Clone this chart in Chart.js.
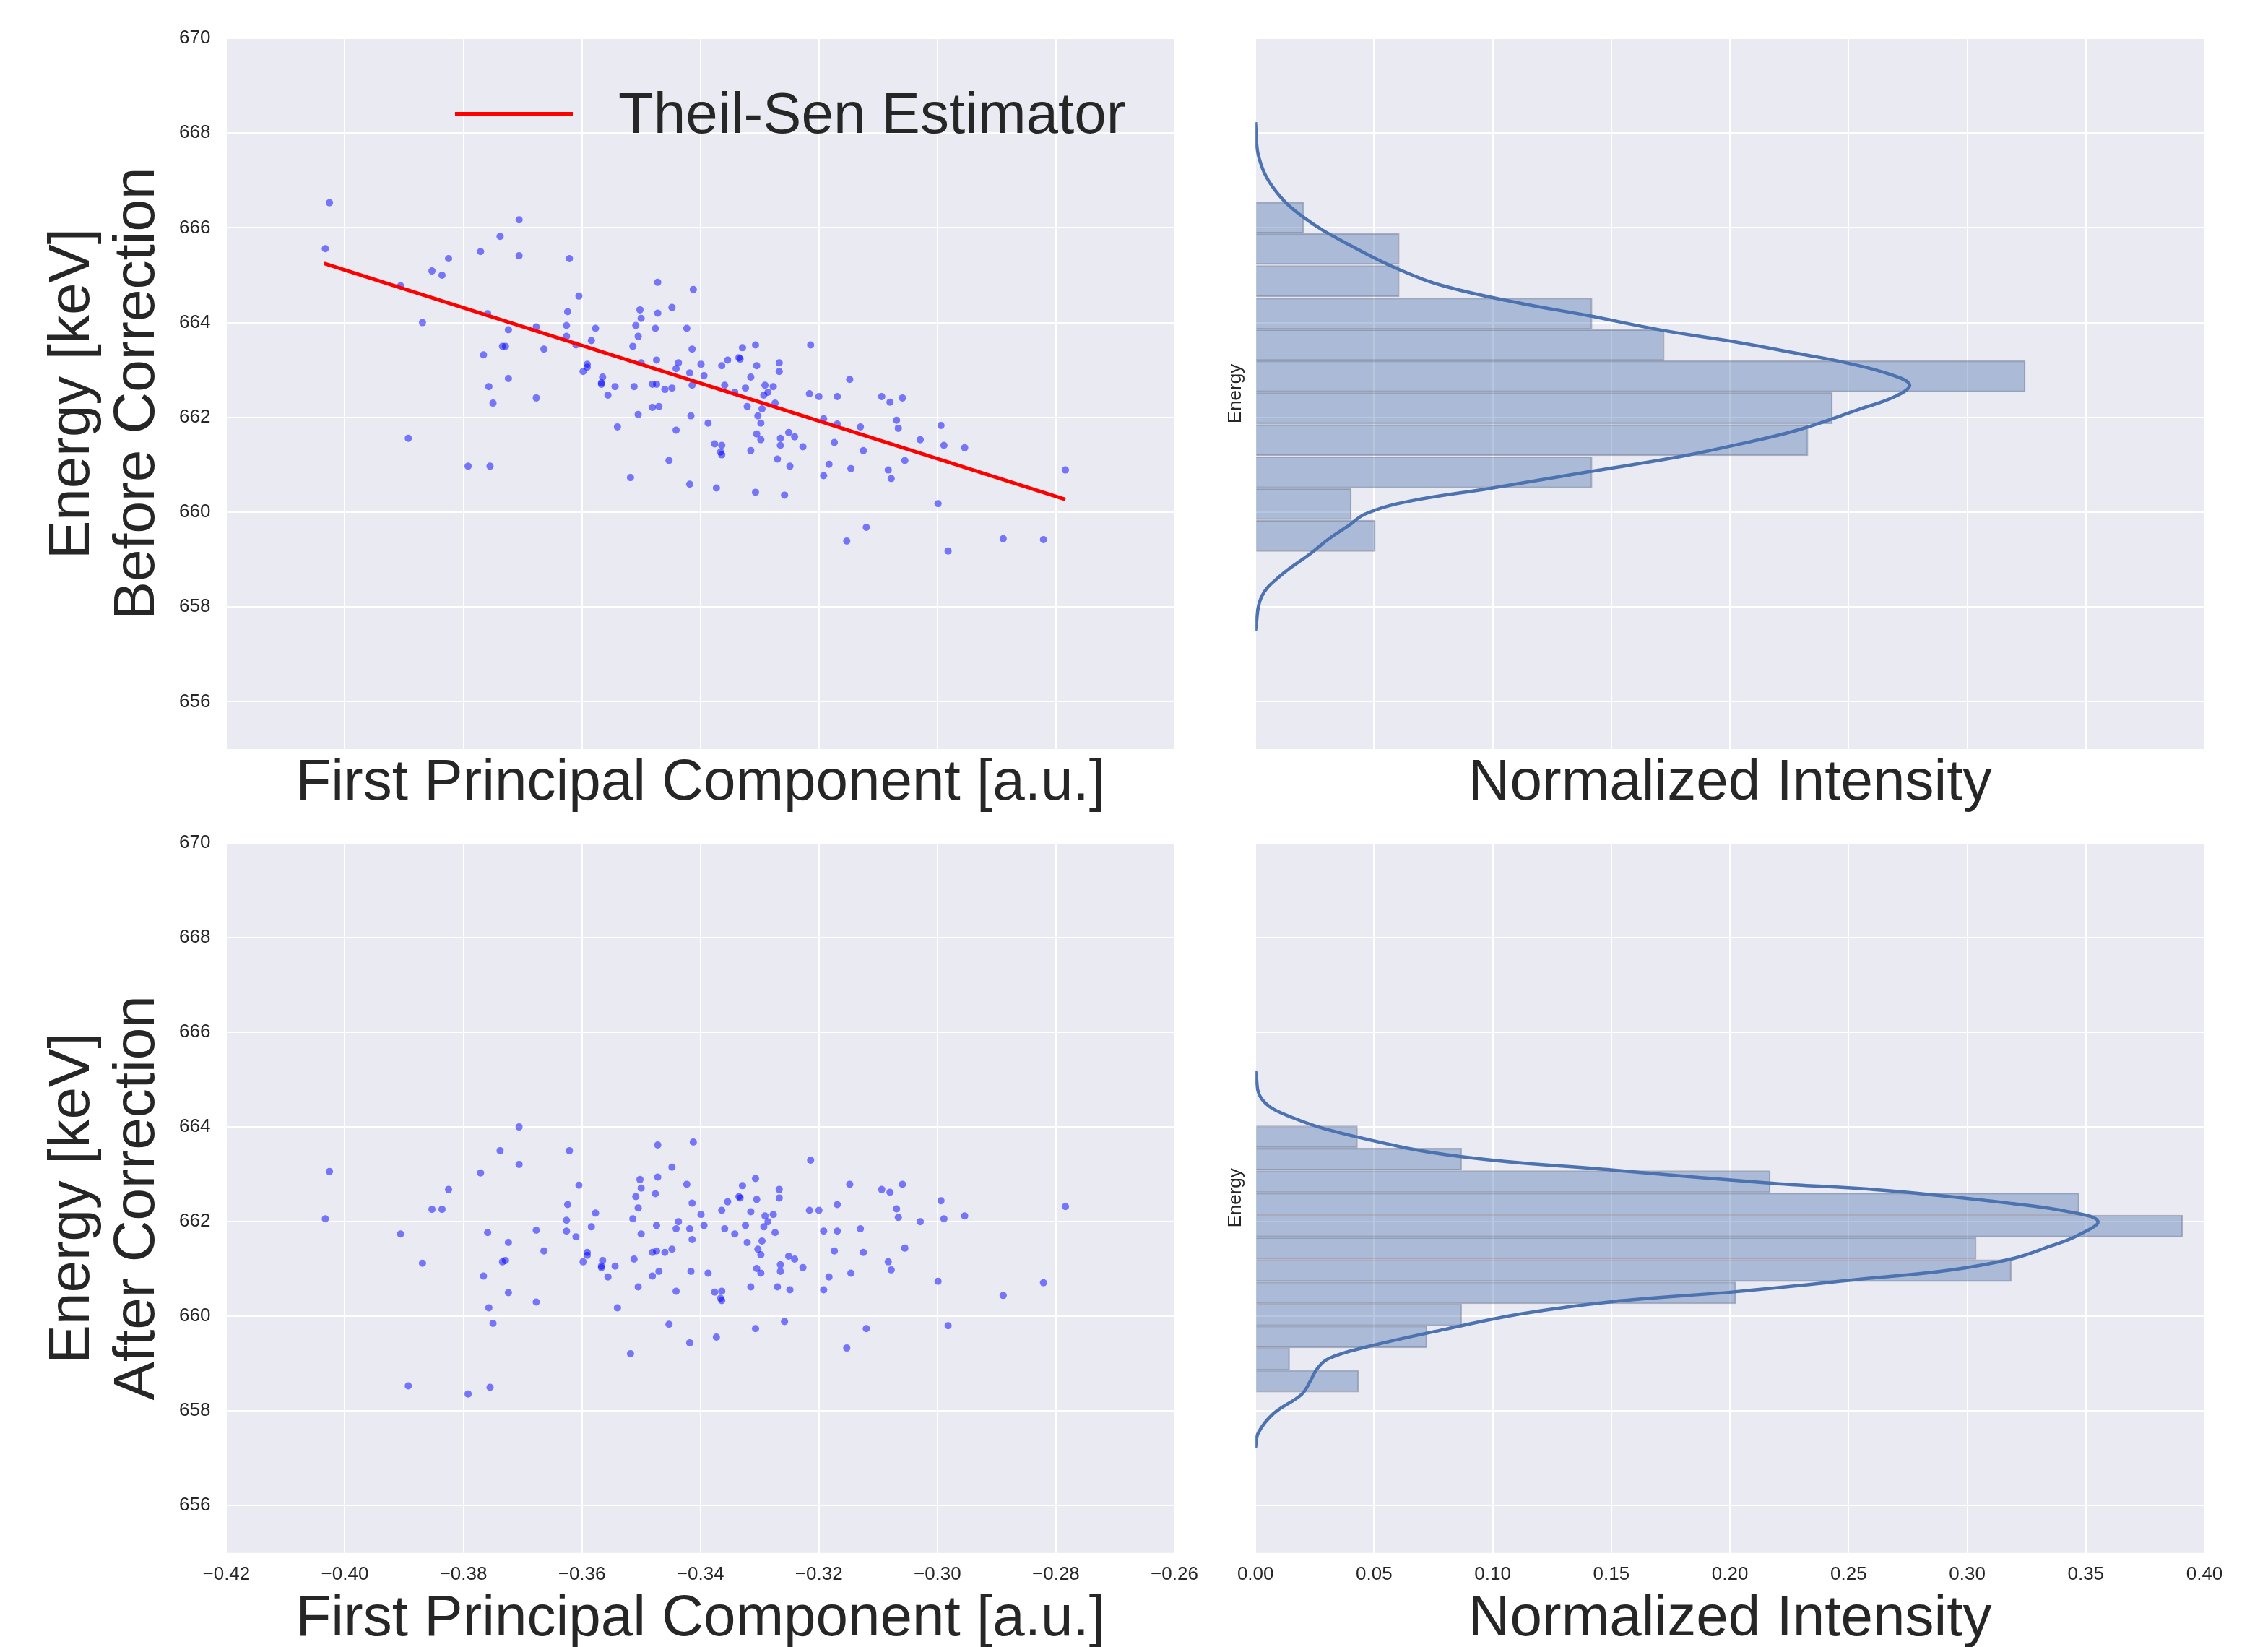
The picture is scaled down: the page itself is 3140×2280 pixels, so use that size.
<!DOCTYPE html>
<html>
<head>
<meta charset="utf-8">
<script src="https://cdn.jsdelivr.net/npm/chart.js@4.4.1/dist/chart.umd.min.js"></script>
<style>
html, body { margin: 0; padding: 0; background: #fff; }
body { width: 3140px; height: 2280px; position: relative; overflow: hidden; font-family: "Liberation Sans", Arial, sans-serif; }
canvas { position: absolute; }
#legendLine { position: absolute; left: 630px; top: 155px; width: 163px; height: 5px; background: #ff0000; }
#legendText { position: absolute; left: 856px; top: 117px; font-size: 80px; line-height: 80px; color: #262626; white-space: nowrap; }
</style>
</head>
<body>
<canvas id="scatterBefore" width="1680" height="1143" style="left:0px;top:0px"></canvas>
<canvas id="histBefore" width="1480" height="1143" style="left:1660px;top:0px"></canvas>
<canvas id="scatterAfter" width="1680" height="1176" style="left:0px;top:1114px"></canvas>
<canvas id="histAfter" width="1480" height="1176" style="left:1660px;top:1114px"></canvas>
<div id="legendLine"></div>
<div id="legendText">Theil-Sen Estimator</div>
<script>
Chart.defaults.font.family = '"Liberation Sans", Arial, sans-serif';
Chart.defaults.color = '#262626';

// first principal component of each event
const pcX = [
  -0.4026, -0.4033, -0.3706, -0.3738, -0.3771, -0.3706, -0.3825, -0.3621, -0.3853, -0.3836,
  -0.3906, -0.3472, -0.3412, -0.3605, -0.3448, -0.3502, -0.3624, -0.3472, -0.3759, -0.3500,
  -0.3869, -0.3626, -0.3509, -0.3677, -0.3476, -0.3423, -0.3724, -0.3577, -0.3626, -0.3505,
  -0.3584, -0.3734, -0.3729, -0.3514, -0.3610, -0.3664, -0.3414, -0.3766, -0.3474, -0.3500,
  -0.3437, -0.3591, -0.3591, -0.3441, -0.3598, -0.3418, -0.3724, -0.3565, -0.3567, -0.3567,
  -0.3757, -0.3544, -0.3512, -0.3481, -0.3474, -0.3460, -0.3448, -0.3414, -0.3556, -0.3677,
  -0.3750, -0.3481, -0.3470, -0.3505, -0.3416, -0.3540, -0.3441, -0.3893, -0.3792, -0.3755,
  -0.3453, -0.3518, -0.3418,
  -0.3307, -0.3214, -0.3329, -0.3335, -0.3333, -0.3354, -0.3399, -0.3364, -0.3305, -0.3267,
  -0.3267, -0.3394, -0.3315, -0.3148, -0.3359, -0.3291, -0.3277, -0.3324, -0.3342, -0.3286,
  -0.3293, -0.3216, -0.3200, -0.3169, -0.3094, -0.3080, -0.3059, -0.3274, -0.3321, -0.3296,
  -0.3303, -0.3192, -0.3069, -0.3387, -0.3298, -0.3169, -0.3130, -0.2994, -0.3066, -0.3251,
  -0.3305, -0.3241, -0.3265, -0.3298, -0.3029, -0.3376, -0.3364, -0.3265, -0.3174, -0.2989,
  -0.3227, -0.2954, -0.3315, -0.3125, -0.3366, -0.3364, -0.3270, -0.3055, -0.3249, -0.3183,
  -0.3146, -0.3083, -0.2784, -0.3192, -0.3078, -0.3373, -0.3307, -0.3258, -0.2999, -0.3120,
  -0.3153, -0.2889, -0.2821, -0.2982
];

// energy before correction [keV]
const energyBefore = [
  666.53, 665.56, 666.17, 665.82, 665.50, 665.41, 665.35, 665.35, 665.09, 665.00,
  664.78, 664.85, 664.70, 664.56, 664.32, 664.27, 664.23, 664.20, 664.19, 664.09,
  664.00, 663.94, 663.94, 663.91, 663.88, 663.88, 663.85, 663.88, 663.71, 663.71,
  663.62, 663.50, 663.50, 663.50, 663.53, 663.44, 663.44, 663.32, 663.21, 663.15,
  663.15, 663.12, 663.06, 663.03, 662.97, 662.94, 662.82, 662.85, 662.73, 662.70,
  662.65, 662.65, 662.65, 662.70, 662.70, 662.59, 662.62, 662.68, 662.47, 662.41,
  662.30, 662.21, 662.23, 662.06, 662.03, 661.80, 661.73, 661.56, 660.97, 660.97,
  661.09, 660.73, 660.59,
  663.53, 663.53, 663.47, 663.26, 663.23, 663.21, 663.12, 663.09, 663.09, 663.15,
  662.97, 662.88, 662.85, 662.80, 662.68, 662.68, 662.65, 662.62, 662.53, 662.53,
  662.47, 662.50, 662.44, 662.44, 662.44, 662.32, 662.41, 662.30, 662.23, 662.18,
  662.03, 661.97, 661.94, 661.88, 661.88, 661.86, 661.80, 661.83, 661.77, 661.68,
  661.65, 661.59, 661.56, 661.53, 661.53, 661.44, 661.41, 661.41, 661.47, 661.41,
  661.38, 661.36, 661.30, 661.30, 661.27, 661.21, 661.12, 661.09, 660.97, 661.01,
  660.92, 660.89, 660.89, 660.77, 660.71, 660.51, 660.42, 660.36, 660.18, 659.68,
  659.39, 659.44, 659.42, 659.18
];

// energy after correction [keV]
const energyAfter = [
  663.06, 662.06, 664.00, 663.50, 663.03, 663.21, 662.68, 663.50, 662.26, 662.26,
  661.74, 663.62, 663.68, 662.77, 663.15, 662.89, 662.36, 662.94, 661.77, 662.71,
  661.12, 662.03, 662.53, 661.82, 662.59, 662.79, 661.56, 662.18, 661.80, 662.29,
  661.89, 661.15, 661.18, 662.06, 661.68, 661.38, 662.39, 660.85, 661.92, 661.74,
  662.00, 661.35, 661.29, 661.85, 661.15, 661.85, 660.50, 661.18, 661.06, 661.03,
  660.18, 661.06, 661.21, 661.35, 661.38, 661.35, 661.42, 661.62, 660.83, 660.30,
  659.85, 660.85, 660.95, 660.62, 660.95, 660.18, 660.53, 658.53, 658.36, 658.50,
  659.83, 659.21, 659.44,
  662.91, 663.30, 662.76, 662.53, 662.50, 662.42, 662.15, 662.24, 662.47, 662.68,
  662.50, 661.92, 662.21, 662.79, 661.85, 662.12, 662.15, 661.92, 661.74, 662.00,
  661.89, 662.24, 662.24, 662.36, 662.68, 662.62, 662.79, 661.77, 661.56, 661.59,
  661.42, 661.80, 662.27, 660.91, 661.30, 661.80, 661.85, 662.44, 662.09, 661.27,
  661.01, 661.21, 661.09, 660.91, 662.00, 660.51, 660.53, 660.95, 661.38, 662.06,
  661.03, 662.12, 660.62, 661.35, 660.38, 660.33, 660.62, 661.44, 660.56, 660.83,
  660.91, 661.15, 662.32, 660.56, 660.98, 659.56, 659.74, 659.89, 660.74, 659.74,
  659.33, 660.44, 660.71, 659.80
];

// Theil-Sen fit end points
const fitX = [-0.4035, -0.2784];
const fitE = [665.25, 660.27];

// histograms (bin centres, normalized intensity)
const binsBefore = [659.50, 660.17, 660.84, 661.52, 662.195, 662.865, 663.525, 664.19, 664.875, 665.555, 666.215];
const densityBefore = [0.0505, 0.0404, 0.1419, 0.2329, 0.2432, 0.3245, 0.1723, 0.1419, 0.0606, 0.0606, 0.0204];
const binsAfter = [658.63, 659.095, 659.565, 660.03, 660.495, 660.965, 661.435, 661.905, 662.375, 662.845, 663.32, 663.79];
const densityAfter = [0.0435, 0.0144, 0.0723, 0.0869, 0.2025, 0.3186, 0.3038, 0.3908, 0.3472, 0.2170, 0.0869, 0.0430];

// kde curves
const kdeBeforeE = [668.23, 667.53, 666.83, 666.21, 665.59, 665.11, 664.76, 664.41, 664.15, 663.84, 663.59, 663.35, 663.15, 662.91, 662.69, 662.45, 662.17, 661.73, 661.42, 661.15, 660.85, 660.50, 660.23, 659.97, 659.70, 659.44, 659.13, 658.65, 658.21, 657.50];
const kdeBeforeD = [0, 0.0012, 0.0077, 0.0206, 0.0414, 0.0610, 0.0804, 0.1116, 0.1401, 0.1713, 0.2025, 0.2284, 0.2492, 0.2674, 0.2757, 0.2700, 0.2544, 0.2284, 0.2025, 0.1765, 0.1401, 0.0986, 0.0648, 0.0466, 0.0388, 0.0310, 0.0233, 0.0103, 0.0025, 0];
const kdeAfterE = [665.19, 664.60, 664.20, 663.79, 663.38, 663.09, 662.82, 662.65, 662.38, 662.21, 662.01, 661.71, 661.48, 661.22, 660.98, 660.78, 660.52, 660.31, 660.05, 659.73, 659.35, 659.11, 658.88, 658.65, 658.35, 657.95, 657.54, 657.22];
const kdeAfterD = [0, 0.0025, 0.0155, 0.0427, 0.0856, 0.1505, 0.2154, 0.2674, 0.3193, 0.3427, 0.3551, 0.3466, 0.3349, 0.3193, 0.2934, 0.2544, 0.2025, 0.1505, 0.1116, 0.0804, 0.0466, 0.0310, 0.0258, 0.0233, 0.0194, 0.0077, 0.0012, 0];

// tick labels
const energyTicks = [656, 658, 660, 662, 664, 666, 668, 670];
const pcTicks = [-0.42, -0.40, -0.38, -0.36, -0.34, -0.32, -0.30, -0.28, -0.26];
const intensityTicks = [0, 0.05, 0.10, 0.15, 0.20, 0.25, 0.30, 0.35, 0.40];

const TEXT = '#262626';

// grey plotting area like seaborn darkgrid
const plotBackground = {
  id: 'plotBackground',
  beforeDraw(chart) {
    const {ctx, chartArea: a} = chart;
    ctx.save();
    ctx.fillStyle = '#eaeaf2';
    ctx.fillRect(a.left, a.top, a.right - a.left, a.bottom - a.top);
    ctx.restore();
  }
};

const gridStyle = {color: '#ffffff', lineWidth: 2, drawTicks: false, offset: false};
const fmt = v => (v < 0 ? '\u2212' : '') + Math.abs(v).toFixed(2);

const xAxis = (min, max, ticks, title, showLabels, titlePadTop) => ({
  type: 'linear', min: min, max: max, offset: false,
  afterBuildTicks: axis => { axis.ticks = ticks.map(v => ({value: v})); },
  grid: gridStyle,
  border: {display: false},
  ticks: {display: showLabels, autoSkip: false, padding: 14, font: {size: 26}, color: TEXT, callback: v => fmt(v)},
  title: {display: true, text: title, color: TEXT, font: {size: 80, lineHeight: 0.7}, padding: {top: titlePadTop, bottom: 0}}
});

const energyAxis = (title, big) => ({
  type: 'linear', min: 655, max: 670, offset: false,
  afterBuildTicks: axis => { axis.ticks = energyTicks.map(v => ({value: v})); },
  grid: gridStyle,
  border: {display: false},
  ticks: {display: big, padding: 22, font: {size: 26}, color: TEXT},
  title: big
    ? {display: true, text: title, color: TEXT, font: {size: 80, lineHeight: 1.125}, padding: {top: 0, bottom: -10}}
    : {display: true, text: title, color: TEXT, font: {size: 26, lineHeight: 1.2}, padding: {top: 0, bottom: 12}}
});

const baseOptions = (padding, scales) => ({
  responsive: false,
  animation: false,
  devicePixelRatio: 1,
  events: [],
  layout: {padding: padding},
  plugins: {legend: {display: false}, tooltip: {enabled: false}},
  scales: scales
});

const scatterChart = (id, energies, withFit, yTitle, showX, titlePadTop, padBottom) => {
  const datasets = [];
  if (withFit) {
    datasets.push({
      type: 'line',
      data: fitX.map((x, i) => ({x: x, y: fitE[i]})),
      borderColor: '#ff0000', borderWidth: 5, pointRadius: 0, fill: false, order: 0
    });
  }
  datasets.push({
    type: 'scatter',
    data: pcX.map((x, i) => ({x: x, y: energies[i]})),
    pointRadius: 5, pointBorderWidth: 0,
    backgroundColor: 'rgba(0,0,255,0.5)', order: 1
  });
  new Chart(id, {
    type: 'scatter',
    data: {datasets},
    options: baseOptions({left: 56, right: 54, top: 53, bottom: padBottom}, {
      x: xAxis(-0.42, -0.26, pcTicks, 'First Principal Component [a.u.]', showX, titlePadTop),
      y: energyAxis(yTitle, true)
    }),
    plugins: [plotBackground]
  });
};

const histChart = (id, bins, density, kdeE, kdeD, showX, titlePadTop, padBottom) => {
  new Chart(id, {
    type: 'bar',
    data: {
      datasets: [
        {
          type: 'line',
          data: kdeE.map((e, i) => ({x: kdeD[i], y: e})),
          borderColor: '#4c72b0', borderWidth: 4.5, pointRadius: 0, tension: 0.4, fill: false, order: 0
        },
        {
          type: 'bar',
          data: bins.map((e, i) => ({x: density[i], y: e})),
          backgroundColor: 'rgba(76,114,176,0.4)',
          borderColor: 'rgba(90,100,125,0.45)', borderWidth: 1.5,
          barPercentage: 1, categoryPercentage: 1, order: 1
        }
      ]
    },
    options: Object.assign(baseOptions({left: 35, right: 88, top: 53, bottom: padBottom}, {
      x: xAxis(0, 0.4, intensityTicks, 'Normalized Intensity', showX, titlePadTop),
      y: energyAxis('Energy', false)
    }), {indexAxis: 'y'}),
    plugins: [plotBackground]
  });
};

scatterChart('scatterBefore', energyBefore, true, ['Energy [keV]', 'Before Correction'], false, 20, 30);
scatterChart('scatterAfter', energyAfter, false, ['Energy [keV]', 'After Correction'], true, 5, 20);
histChart('histBefore', binsBefore, densityBefore, kdeBeforeE, kdeBeforeD, false, 20, 30);
histChart('histAfter', binsAfter, densityAfter, kdeAfterE, kdeAfterD, true, 5, 20);
</script>
</body>
</html>
